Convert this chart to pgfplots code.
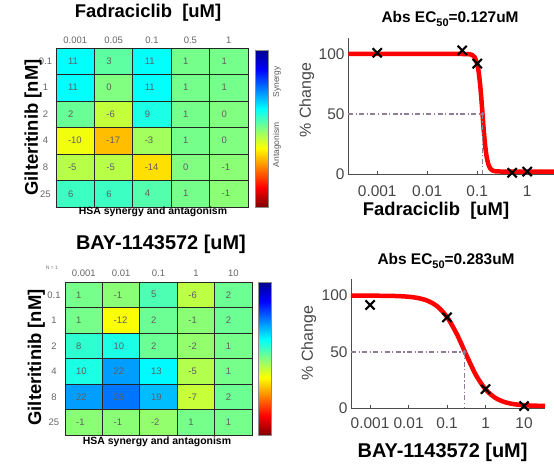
\documentclass[border=0pt]{standalone}
\usepackage{pgfplots}
\pgfplotsset{compat=1.18}
\usepackage{pgfplotstable}
\usepackage{fontspec}
\setmainfont{Liberation Sans}

\newcommand\fs[1]{\fontsize{#1}{#1}\selectfont}
\definecolor{txtgray}{RGB}{70,70,70}
\definecolor{cellgray}{RGB}{95,95,95}
\definecolor{ecline}{RGB}{145,125,150}

% HSA scores, x = drug column, y = gilteritinib row
\pgfplotstableread{
x y v
0 0 11
1 0 3
2 0 11
3 0 1
4 0 1
0 1 11
1 1 0
2 1 11
3 1 1
4 1 1
0 2 2
1 2 -6
2 2 9
3 2 1
4 2 0
0 3 -10
1 3 -17
2 3 -3
3 3 1
4 3 0
0 4 -5
1 4 -5
2 4 -14
3 4 0
4 4 -1
0 5 6
1 5 6
2 5 4
3 5 1
4 5 -1
}\fadra

\pgfplotstableread{
x y v
0 0 1
1 0 -1
2 0 5
3 0 -6
4 0 2
0 1 1
1 1 -12
2 1 2
3 1 -1
4 1 2
0 2 8
1 2 10
2 2 2
3 2 -2
4 2 1
0 3 10
1 3 22
2 3 13
3 3 -5
4 3 1
0 4 22
1 4 26
2 4 19
3 4 -7
4 4 2
0 5 -1
1 5 -1
2 5 -2
3 5 1
4 5 1
}\bay

\pgfplotsset{
  heat/.style={
    scale only axis,
    colormap={jetr}{rgb255(0cm)=(128,0,0) rgb255(1cm)=(255,0,0) rgb255(3cm)=(255,255,0)
      rgb255(4cm)=(128,255,128) rgb255(5cm)=(0,255,255) rgb255(7cm)=(0,0,255) rgb255(8cm)=(0,0,143)},
    xmin=-0.5, xmax=4.5, ymin=-0.5, ymax=5.5, y dir=reverse,
    xtick={0,...,4}, ytick={0,...,5}, xticklabel pos=upper,
    major tick length=0, minor tick length=0,
    minor xtick={0.5,1.5,2.5,3.5}, minor ytick={0.5,1.5,2.5,3.5,4.5},
    xminorgrids, yminorgrids,
    minor grid style={black!85, line width=0.7pt},
    axis on top,
    axis line style={black!85, line width=0.7pt},
    tick label style={font=\fs{9.5}, text=black!60},
    xlabel={HSA synergy and antagonism},
    ylabel={Gilteritinib [nM]},
  },
  dose/.style={
    scale only axis, clip=false,
    axis x line*=bottom, axis y line*=left,
    axis line style={-, black!70, line width=0.8pt},
    xtick={0.001,0.01,0.1,1,10}, xticklabels={0.001,0.01,0.1,1,10},
    ytick={0,50,100}, yticklabels={0,50,100},
    xminorticks=false, tick align=inside, major tick length=3bp,
    tick style={black!70},
    tick label style={font=\fs{15.5}, text=txtgray},
    xticklabel style={anchor=base},
    ylabel={\% Change},
    ylabel style={font=\fs{16}, text=txtgray, anchor=base},
    title style={font=\bfseries\fs{15.5}, anchor=base},
    xlabel style={anchor=base},
  },
  ecdash/.style={ecline, line width=1.3bp, dash pattern=on 5bp off 2.5bp on 1.2bp off 2.5bp},
}

\begin{document}
\begin{tikzpicture}[x=1bp,y=1bp]
\useasboundingbox (0,0) rectangle (554,469);

% ---------- Fadraciclib heatmap ----------
\begin{axis}[heat, name=h1, at={(56bp,262bp)}, anchor=south west,
  width=192bp, height=159bp,
  point meta min=-45, point meta max=45,
  xticklabels={0.001,0.05,0.1,0.5,1},
  yticklabels={0.1,1,2,4,8,25},
  xticklabel style={anchor=base, yshift=4.7bp},
  yticklabel style={anchor=center, xshift=-10.5bp},
  title={Fadraciclib~~[uM]},
  title style={at={(axis description cs:0.479,1)}, anchor=base, yshift=24.7bp, font=\bfseries\fs{18.5}},
  xlabel style={at={(axis description cs:0.505,0)}, anchor=base, yshift=-8bp, font=\bfseries\fs{10.5}},
  ylabel style={at={(axis description cs:-0.094,0.5)}, anchor=base, font=\bfseries\fs{18.5}},
  colorbar,
  colorbar style={scale only axis, at={(parent axis.south east)}, anchor=south west,
    xshift=-1bp, width=13bp, height=157bp, ytick=\empty,
    axis line style={black!45, line width=0.4pt}},
]
\addplot[matrix plot*, mesh/cols=5, point meta=explicit] table[x=x, y=y, meta=v] {\fadra};
\addplot[draw=none, mark=none, point meta=explicit symbolic, nodes near coords,
  nodes near coords style={anchor=west, xshift=-10.7bp, font=\fs{9.5}, text=cellgray}]
  table[x=x, y=y, meta=v] {\fadra};
\end{axis}
\node[rotate=90, font=\fs{8.5}, text=black!65] at (277,387) {Synergy};
\node[rotate=90, font=\fs{8.5}, text=black!65] at (277,324) {Antagonism};

% ---------- BAY-1143572 heatmap ----------
\begin{axis}[heat, name=h2, at={(65bp,34bp)}, anchor=south west,
  width=187bp, height=153bp,
  point meta min=-50, point meta max=50,
  xticklabels={0.001,0.01,0.1,1,10},
  yticklabels={0.1,1,2,4,8,25},
  xticklabel style={anchor=base, yshift=5.3bp},
  yticklabel style={anchor=center, xshift=-11bp},
  title={BAY-1143572 [uM]},
  title style={at={(axis description cs:0.513,1)}, anchor=base, yshift=26.5bp, font=\bfseries\fs{20}},
  xlabel style={at={(axis description cs:0.492,0)}, anchor=base, yshift=-10bp, font=\bfseries\fs{10.5}},
  ylabel style={at={(axis description cs:-0.128,0.507)}, anchor=base, font=\bfseries\fs{18.5}},
  colorbar,
  colorbar style={scale only axis, at={(parent axis.south east)}, anchor=south west,
    xshift=-2bp, width=13bp, height=153bp, ytick=\empty,
    axis line style={black!45, line width=0.4pt}},
]
\addplot[matrix plot*, mesh/cols=5, point meta=explicit] table[x=x, y=y, meta=v] {\bay};
\addplot[draw=none, mark=none, point meta=explicit symbolic, nodes near coords,
  nodes near coords style={anchor=west, xshift=-11bp, font=\fs{9.5}, text=cellgray}]
  table[x=x, y=y, meta=v] {\bay};
\end{axis}
\node[font=\fs{5}, text=black!55] at (52,201) {N = 1};

% ---------- Fadraciclib dose response ----------
\begin{axis}[dose, xmode=log, at={(348bp,295bp)}, anchor=south west,
  width=207bp, height=135.6bp,
  xmin=2.6e-4, xmax=3.6, ymin=0, ymax=113,
  xticklabel style={yshift=-23bp},
  title={Abs EC\raisebox{-4bp}{\fs{11}50}=0.127uM},
  title style={at={(axis description cs:0.493,1)}, yshift=10bp},
  xlabel={Fadraciclib~~[uM]},
  xlabel style={at={(axis description cs:0.425,0)}, yshift=-42bp, font=\bfseries\fs{18.5}},
  ylabel style={at={(axis description cs:-0.179,0.544)}},
]
\addplot[red, line width=4.5bp] coordinates {
 (0.000263,100) (0.0316,100) (0.0501,99.99) (0.0631,99.91) (0.0708,99.72)
 (0.0794,99.11) (0.0891,97.26) (0.1,91.81) (0.1072,84.91) (0.1148,73.90)
 (0.1202,64.22) (0.1259,53.26) (0.1318,42.08) (0.1380,31.78) (0.1445,23.16)
 (0.1514,16.51) (0.1585,11.68) (0.1698,7.10) (0.1820,4.63) (0.1995,3.06)
 (0.2239,2.34) (0.2512,2.11) (0.3162,2.04) (3.6,2.0)};
\addplot[ecdash] coordinates {(2.6e-4,50) (0.127,50) (0.127,0)};
\addplot[ecline, only marks, mark=*, mark size=1.8bp] coordinates {(0.127,50)};
\addplot[black, only marks, mark=x, mark size=6.5bp, line width=2.1bp] coordinates {
 (0.001,101) (0.05,103) (0.1,92) (0.5,1) (1,2)};
\end{axis}

% ---------- BAY-1143572 dose response ----------
\begin{axis}[dose, xmode=log, at={(351bp,60.7bp)}, anchor=south west,
  width=194bp, height=129bp,
  xmin=3.2e-4, xmax=35, ymin=0, ymax=114.5,
  xticklabel style={yshift=-20bp},
  title={Abs EC\raisebox{-4bp}{\fs{11}50}=0.283uM},
  title style={at={(axis description cs:0.49,1)}, yshift=9bp},
  xlabel={BAY-1143572 [uM]},
  xlabel style={at={(axis description cs:0.472,0)}, yshift=-49bp, font=\bfseries\fs{20}},
  ylabel style={at={(axis description cs:-0.196,0.506)}},
]
\addplot[red, line width=4.5bp, smooth] coordinates {
 (0.000316,99.99) (0.001,99.96) (0.00316,99.79) (0.00562,99.55) (0.01,99.0)
 (0.01778,97.84) (0.0316,95.36) (0.0562,90.35) (0.1,81.01) (0.1778,66.10)
 (0.283,51.0) (0.316,47.30) (0.562,29.53) (1,16.78) (1.778,9.32)
 (3.162,5.46) (5.623,3.61) (10,2.74) (17.78,2.34) (35,2.13)};
\addplot[ecdash] coordinates {(3.2e-4,50) (0.283,50) (0.283,0)};
\addplot[ecline, only marks, mark=*, mark size=1.8bp] coordinates {(0.283,50)};
\addplot[black, only marks, mark=x, mark size=6.5bp, line width=2.1bp] coordinates {
 (0.001,91.7) (0.1,80.7) (1,17) (10,2)};
\end{axis}
\end{tikzpicture}
\end{document}
